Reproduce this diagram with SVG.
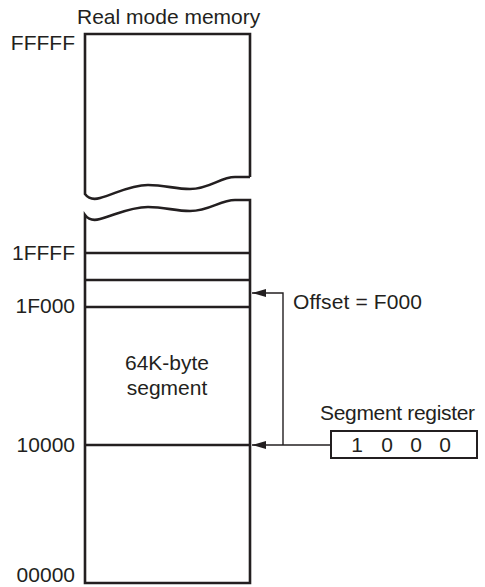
<svg xmlns="http://www.w3.org/2000/svg" width="485" height="587" viewBox="0 0 485 587">
<style>
text{font-family:"Liberation Sans",Arial,sans-serif;font-size:21px;fill:#231f20}
.lbl{text-anchor:end}
.mem{fill:none;stroke:#231f20;stroke-width:2.6}
.conn{fill:none;stroke:#231f20;stroke-width:1.4}
</style>
<defs>
<marker id="ah" markerWidth="14" markerHeight="8" refX="14" refY="4" orient="auto" markerUnits="userSpaceOnUse">
<path d="M0,0 L14,4 L0,8 Z" fill="#231f20"/>
</marker>
</defs>
<rect width="485" height="587" fill="#fff"/>
<g id="title"><text x="77" y="24">Real mode memory</text></g>
<g id="memory">
<path class="mem" d="M250,177 L250,34 L85,34 L85,194 C88,198 93,200 100,198 C115,194 130,185 148,185 C165,185 175,189 190,189 C210,189 220,177 235,177 L250,177"/>
<path class="mem" d="M85,583 L85,215 C88,219 93,221 100,219 C115,215 130,207 148,207 C165,207 175,211 190,211 C210,211 220,200 235,200 L250,200 L250,583 Z"/>
<line class="mem" x1="85" y1="253" x2="250" y2="253"/>
<line class="mem" x1="85" y1="280" x2="250" y2="280"/>
<line class="mem" x1="85" y1="307" x2="250" y2="307"/>
<line class="mem" x1="85" y1="445" x2="250" y2="445"/>
<text x="167" y="370" text-anchor="middle">64K-byte</text>
<text x="167" y="395" text-anchor="middle">segment</text>
</g>
<g id="labels">
<text class="lbl" x="75" y="50">FFFFF</text>
<text class="lbl" x="75" y="260">1FFFF</text>
<text class="lbl" x="75" y="313">1F000</text>
<text class="lbl" x="75" y="452">10000</text>
<text class="lbl" x="75" y="582">00000</text>
</g>
<g id="segreg">
<text x="320" y="420" textLength="155">Segment register</text>
<rect x="331" y="431" width="146" height="27" fill="none" stroke="#231f20" stroke-width="2"/>
<text x="357" y="452" text-anchor="middle">1</text>
<text x="387" y="452" text-anchor="middle">0</text>
<text x="416" y="452" text-anchor="middle">0</text>
<text x="445" y="452" text-anchor="middle">0</text>
</g>
<g id="offset"><text x="293" y="309" textLength="129">Offset = F000</text></g>
<g id="connectors">
<line class="conn" x1="331" y1="445" x2="252" y2="445" marker-end="url(#ah)"/>
<polyline class="conn" points="283,445 283,293 252,293" marker-end="url(#ah)"/>
</g>
</svg>
